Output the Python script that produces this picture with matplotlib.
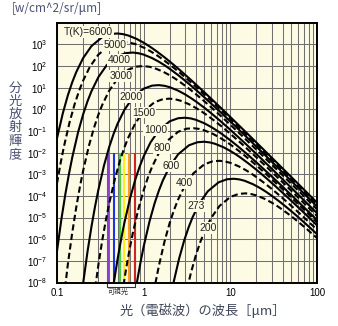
import matplotlib.pyplot as plt
from matplotlib.ticker import FixedLocator, FixedFormatter, LogLocator, NullLocator, NullFormatter
from matplotlib.transforms import blended_transform_factory

plt.rcParams['font.family'] = ['Liberation Sans', 'Noto Sans CJK JP', 'DejaVu Sans']
plt.rcParams['mathtext.fontset'] = 'custom'
plt.rcParams['mathtext.rm'] = 'Liberation Sans'

# spectral radiance [W/cm^2/sr/um] vs wavelength [um], one curve per temperature
wl_6000 = [0.1, 0.1167, 0.1333, 0.15, 0.1667, 0.2, 0.25, 0.3333, 0.4167, 0.5, 0.5833, 0.6667,
           0.8333, 1.0, 1.167, 1.333, 1.667, 2.0, 2.5, 3.333, 5.0, 6.667, 10, 16.67, 33.33, 66.67, 100]
rad_6000 = [4.58e-2, 6.53e-1, 4.38, 17.9, 52.2, 231, 834, 2180, 3010, 3180, 2940, 2550,
            1770, 1190, 809, 561, 288, 161, 75.9, 27.5, 6.19, 2.09, 0.440, 5.98e-2, 3.88e-3, 2.47e-4, 4.91e-5]

wl_5000 = [0.1, 0.11, 0.12, 0.14, 0.16, 0.18, 0.2, 0.24, 0.3, 0.4, 0.5, 0.6, 0.7, 0.8, 1.0,
           1.2, 1.4, 1.6, 2.0, 2.4, 3.0, 4.0, 6.0, 8.0, 12, 20, 40, 80, 120]
rad_5000 = [3.79e-4, 3.22e-3, 1.84e-2, 0.262, 1.76, 7.19, 21.0, 92.9, 335, 875, 1210, 1280, 1180, 1030, 710,
            479, 326, 225, 116, 64.6, 30.5, 11.0, 2.49, 0.839, 0.177, 2.40e-2, 1.56e-3, 9.93e-5, 1.97e-5]

wl_4000 = [0.1, 0.1125, 0.125, 0.1375, 0.15, 0.175, 0.2, 0.225, 0.25, 0.3, 0.375, 0.5, 0.625, 0.75, 0.875,
           1.0, 1.25, 1.5, 1.75, 2.0, 2.5, 3.0, 3.75, 5.0, 7.5, 10, 15, 25, 50, 100]
rad_4000 = [2.84e-7, 8.59e-6, 1.24e-4, 1.05e-3, 6.03e-3, 8.59e-2, 0.575, 2.35, 6.87, 30.4, 110, 286, 396, 418, 387,
            336, 232, 157, 107, 73.8, 37.9, 21.1, 9.98, 3.61, 0.815, 0.275, 5.78e-2, 7.87e-3, 5.11e-4, 3.25e-5]

wl_3000 = [0.1167, 0.1333, 0.15, 0.1667, 0.1833, 0.2, 0.2333, 0.2667, 0.3, 0.3333, 0.4, 0.5, 0.6667, 0.8333,
           1.0, 1.1667, 1.3333, 1.6667, 2.0, 2.3333, 2.6667, 3.3333, 4.0, 5.0, 6.6667, 10, 13.333, 20,
           33.333, 66.667, 133.33]
rad_3000 = [7.74e-10, 6.76e-8, 2.04e-6, 2.95e-5, 2.51e-4, 1.43e-3, 2.04e-2, 0.137, 0.560, 1.63, 7.23, 26.1, 68.1, 94.2,
            99.3, 92.0, 79.8, 55.2, 37.2, 25.4, 17.5, 9.02, 5.02, 2.37, 0.859, 0.194, 6.53e-2, 1.37e-2,
            1.87e-3, 1.21e-4, 7.73e-6]

wl_2000 = [0.175, 0.2, 0.225, 0.25, 0.275, 0.3, 0.35, 0.4, 0.45, 0.5, 0.6, 0.75, 1.0, 1.25, 1.5,
           1.75, 2.0, 2.5, 3.0, 3.5, 4.0, 5.0, 6.0, 7.5, 10, 15, 20, 30, 50, 100]
rad_2000 = [1.02e-10, 8.89e-9, 2.69e-7, 3.88e-6, 3.30e-5, 1.88e-4, 2.69e-3, 1.80e-2, 7.36e-2, 0.215, 0.951, 3.43, 8.95, 12.4, 13.1,
            12.1, 10.5, 7.26, 4.90, 3.33, 2.31, 1.19, 0.661, 0.312, 0.113, 2.55e-2, 8.59e-3, 1.81e-3, 2.46e-4, 1.60e-5]

wl_1500 = [0.2667, 0.3, 0.3333, 0.3667, 0.4, 0.4667, 0.5333, 0.6, 0.6667, 0.8, 1.0, 1.3333, 1.6667, 2.0,
           2.3333, 2.6667, 3.3333, 4.0, 4.6667, 5.3333, 6.6667, 8.0, 10, 13.333, 20, 26.667, 40, 66.667, 133.33]
rad_1500 = [2.11e-9, 6.37e-8, 9.20e-7, 7.82e-6, 4.47e-5, 6.37e-4, 4.27e-3, 1.75e-2, 5.09e-2, 0.225, 0.813, 2.12, 2.94, 3.10,
            2.87, 2.49, 1.72, 1.16, 0.791, 0.547, 0.281, 0.157, 7.40e-2, 2.68e-2, 6.04e-3, 2.04e-3, 4.29e-4, 5.83e-5, 3.78e-6]

wl_1000 = [0.45, 0.5, 0.55, 0.6, 0.7, 0.8, 0.9, 1.0, 1.2, 1.5, 2.0, 2.5, 3.0, 3.5, 4.0,
           5.0, 6.0, 7.0, 8.0, 10, 12, 15, 20, 30, 40, 60, 100]
rad_1000 = [8.39e-9, 1.21e-7, 1.03e-6, 5.89e-6, 8.39e-5, 5.62e-4, 2.30e-3, 6.71e-3, 2.97e-2, 0.107, 0.280, 0.387, 0.408, 0.378, 0.328,
            0.227, 0.153, 0.104, 7.21e-2, 3.71e-2, 2.07e-2, 9.75e-3, 3.53e-3, 7.96e-4, 2.69e-4, 5.65e-5, 7.69e-6]

wl_800 = [0.5625, 0.625, 0.6875, 0.75, 0.875, 1.0, 1.125, 1.25, 1.5, 1.875, 2.5, 3.125, 3.75, 4.375,
          5.0, 6.25, 7.5, 8.75, 10, 12.5, 15, 18.75, 25, 37.5, 50, 75, 125]
rad_800 = [2.75e-9, 3.97e-8, 3.37e-7, 1.93e-6, 2.75e-5, 1.84e-4, 7.53e-4, 2.20e-3, 9.73e-3, 3.51e-2, 9.16e-2, 0.127, 0.134, 0.124,
           0.107, 7.43e-2, 5.01e-2, 3.41e-2, 2.36e-2, 1.21e-2, 6.76e-3, 3.19e-3, 1.16e-3, 2.61e-4, 8.79e-5, 1.85e-5, 2.52e-6]

wl_600 = [0.8333, 0.9167, 1.0, 1.1667, 1.3333, 1.5, 1.6667, 2.0, 2.5, 3.3333, 4.1667, 5.0, 5.8333,
          6.6667, 8.3333, 10, 11.667, 13.333, 16.667, 20, 25, 33.333, 50, 66.667, 100]
rad_600 = [9.44e-9, 8.02e-8, 4.58e-7, 6.53e-6, 4.38e-5, 1.79e-4, 5.22e-4, 2.31e-3, 8.34e-3, 2.18e-2, 3.01e-2, 3.18e-2, 2.94e-2,
           2.55e-2, 1.77e-2, 1.19e-2, 8.11e-3, 5.61e-3, 2.88e-3, 1.61e-3, 7.59e-4, 2.75e-4, 6.19e-5, 2.09e-5, 4.40e-6]

wl_400 = [1.25, 1.375, 1.5, 1.75, 2.0, 2.25, 2.5, 3.0, 3.75, 5.0, 6.25, 7.5, 8.75, 10,
          12.5, 15, 17.5, 20, 25, 30, 37.5, 50, 75, 100]
rad_400 = [1.24e-9, 1.05e-8, 6.03e-8, 8.59e-7, 5.75e-6, 2.36e-5, 6.87e-5, 3.04e-4, 1.10e-3, 2.86e-3, 3.96e-3, 4.18e-3, 3.87e-3, 3.36e-3,
           2.32e-3, 1.57e-3, 1.07e-3, 7.38e-4, 3.79e-4, 2.11e-4, 9.98e-5, 3.61e-5, 8.15e-6, 2.75e-6]

wl_273 = [2.015, 2.198, 2.564, 2.930, 3.297, 3.663, 4.396, 5.495, 7.326, 9.158, 10.99, 12.82, 14.65,
          18.32, 21.98, 25.64, 29.30, 36.63, 43.96, 54.95, 73.26, 109.9]
rad_273 = [1.56e-9, 8.93e-9, 1.27e-7, 8.53e-7, 3.49e-6, 1.02e-5, 4.51e-5, 1.63e-4, 4.25e-4, 5.87e-4, 6.19e-4, 5.74e-4, 4.98e-4,
           3.44e-4, 2.32e-4, 1.58e-4, 1.09e-4, 5.62e-5, 3.13e-5, 1.48e-5, 5.36e-6, 1.21e-6]

wl_200 = [3.0, 3.5, 4.0, 4.5, 5.0, 6.0, 7.5, 10, 12.5, 15, 17.5, 20, 25, 30, 35, 40, 50, 60, 75, 100]
rad_200 = [1.88e-9, 2.69e-8, 1.80e-7, 7.36e-7, 2.15e-6, 9.51e-6, 3.43e-5, 8.95e-5, 1.24e-4, 1.31e-4, 1.21e-4, 1.05e-4,
           7.26e-5, 4.90e-5, 3.33e-5, 2.31e-5, 1.19e-5, 6.61e-6, 3.12e-6, 1.13e-6]

temp_labels = ['T(K)=6000', '5000', '4000', '3000', '2000', '1500', '1000', '800', '600', '400', '273', '200']
curves = [(wl_6000, rad_6000), (wl_5000, rad_5000), (wl_4000, rad_4000), (wl_3000, rad_3000),
          (wl_2000, rad_2000), (wl_1500, rad_1500), (wl_1000, rad_1000), (wl_800, rad_800),
          (wl_600, rad_600), (wl_400, rad_400), (wl_273, rad_273), (wl_200, rad_200)]

# visible band: violet .. red
visible_wl = [0.385, 0.455, 0.535, 0.595, 0.68, 0.785]
visible_colors = ['#8a3fd2', '#1f33e6', '#3fcf3f', '#ffee1a', '#ff9a1f', '#cf2424']

y_ticks = [1e-8, 1e-7, 1e-6, 1e-5, 1e-4, 1e-3, 1e-2, 1e-1, 1e0, 1e1, 1e2, 1e3]
y_ticklabels = [r'$\mathregular{10^{%d}}$' % p for p in range(-8, 4)]
x_ticks = [0.1, 1, 10, 100]
x_ticklabels = ['0.1', '1', '10', '100']

bg = '#fdfbe4'
text_col = '#4a5270'

fig = plt.figure(figsize=(3.38, 3.26), dpi=100)
ax = fig.add_axes([57 / 338, 43.5 / 326, 260 / 338, 259.8 / 326])
ax.set_facecolor(bg)
ax.set_xscale('log')
ax.set_yscale('log')
ax.set_xlim(0.1, 100)
ax.set_ylim(1e-8, 1e4)

ax.xaxis.set_major_locator(FixedLocator(x_ticks))
ax.xaxis.set_major_formatter(FixedFormatter(x_ticklabels))
ax.xaxis.set_minor_locator(LogLocator(base=10, subs=range(2, 10)))
ax.xaxis.set_minor_formatter(NullFormatter())
ax.yaxis.set_major_locator(FixedLocator(y_ticks))
ax.yaxis.set_major_formatter(FixedFormatter(y_ticklabels))
ax.yaxis.set_minor_locator(NullLocator())
ax.tick_params(which='both', length=0)
ax.tick_params(axis='x', pad=4, labelsize=7)
ax.tick_params(axis='y', pad=7, labelsize=7)

ax.set_axisbelow(True)
ax.grid(True, which='both', axis='x', color='#707070', lw=0.75)
ax.grid(True, which='major', axis='y', color='#707070', lw=0.75)
for sp in ax.spines.values():
    sp.set_linewidth(1.4)
    sp.set_color('black')

ax.vlines(visible_wl, 1e-8, 1e-2, colors=visible_colors, lw=1.5, zorder=2)

for i, (wl, rad) in enumerate(curves):
    ls = '-' if i % 2 == 0 else (0, (3, 1.6))
    ax.plot(wl, rad, color='black', lw=1.5, ls=ls, zorder=3)

# curve labels sit on a patch of background so the lines break under them
label_pos = [(0.231, 3.6e3), (0.467, 930), (0.526, 190), (0.554, 34),
             (0.723, 3.8), (0.995, 0.70), (1.37, 0.11), (1.65, 1.6e-2),
             (2.09, 2.4e-3), (2.92, 3.9e-4), (4.06, 3.5e-5), (5.52, 3.4e-6)]
for (x, y), lab in zip(label_pos, temp_labels):
    ax.text(x, y, lab, ha='center', va='center', fontsize=7.5, color='#222222', zorder=5,
            bbox=dict(boxstyle='square,pad=0.08', fc=bg, ec='none'))

# bracket under the visible band
tr = blended_transform_factory(ax.transData, ax.transAxes)
ax.plot([visible_wl[0] * 0.98, visible_wl[0] * 0.98, visible_wl[-1] * 1.02, visible_wl[-1] * 1.02],
        [0, -0.018, -0.018, 0], transform=tr, color='#333333', lw=0.8, clip_on=False)
ax.text(0.505, -0.036, '可視光', transform=tr, ha='center', va='center',
        fontsize=5, color='#333333', family=['Noto Sans CJK JP', 'DejaVu Sans'])

fig.text(11.5 / 338, 1 - 8.5 / 326, '[w/cm^2/sr/μm]', ha='left', va='center',
         fontsize=8.5, color=text_col, family=['Noto Sans CJK JP', 'DejaVu Sans'])
for k, ch in enumerate('分光放射輝度'):
    fig.text(15 / 338, 1 - (88 + 13.3 * k) / 326, ch, ha='center', va='center',
             fontsize=9.5, color=text_col, family=['Noto Sans CJK JP', 'DejaVu Sans'])
fig.text(203 / 338, 1 - 310.7 / 326, '光（電磁波）の波長［μm］', ha='center', va='center',
         fontsize=9.5, color='#3d4458', family=['Noto Sans CJK JP', 'DejaVu Sans'])

fig.savefig('out.png', dpi=100)
